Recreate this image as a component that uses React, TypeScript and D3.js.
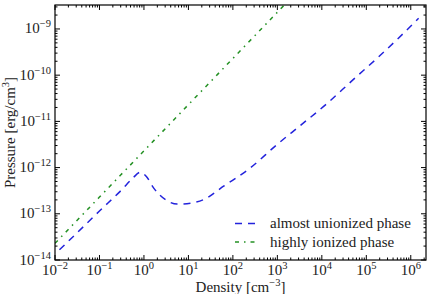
import React, { useEffect, useRef } from "react";
import * as d3 from "d3";

// almost unionized phase: density [cm^-3] vs pressure [erg/cm^3]
const neutralDensity = [
  0.0126, 0.0316, 0.1, 0.316, 0.56, 0.83, 1.12, 1.66, 3.1, 5.6, 11.2, 22.4, 63,
  229, 1000, 3162, 13200, 50000, 190000, 500000, 1500000,
];
const neutralPressure = [
  1.66e-14, 3.9e-14, 1.15e-13, 3.3e-13, 5.9e-13, 7.9e-13, 6.5e-13, 3.6e-13,
  2.0e-13, 1.62e-13, 1.7e-13, 2.04e-13, 4.0e-13, 9.3e-13, 3.2e-12, 7.9e-12,
  2.45e-11, 7.9e-11, 2.5e-10, 6.0e-10, 1.7e-9,
];

// highly ionized phase
const ionizedDensity = [0.01, 0.1, 1, 10, 100, 1000, 10000];
const ionizedPressure = [2.3e-14, 2.3e-13, 2.3e-12, 2.3e-11, 2.3e-10, 2.3e-9, 2.3e-8];

const xTickExponents = [-2, -1, 0, 1, 2, 3, 4, 5, 6];
const yTickExponents = [-14, -13, -12, -11, -10, -9];

const legendLabels = ["almost unionized phase", "highly ionized phase"];

const W = 434;
const H = 294;
const margin = { left: 55, right: 8, top: 5, bottom: 34 };
const FONT = "'Liberation Serif', 'Times New Roman', serif";

const BLUE = "#2323dc";
const GREEN = "#249124";

const sup = (e: number) => (e < 0 ? `\u2212${-e}` : `${e}`);

const minorValues = (domain: number[]) => {
  const out: number[] = [];
  const lo = Math.floor(Math.log10(domain[0]));
  const hi = Math.ceil(Math.log10(domain[1]));
  for (let d = lo; d <= hi; d++) {
    for (let m = 2; m <= 9; m++) {
      const v = m * Math.pow(10, d);
      if (v >= domain[0] && v <= domain[1]) out.push(v);
    }
  }
  return out;
};

const App = () => {
  const svgRef = useRef<SVGSVGElement>(null);

  useEffect(() => {
    const svg = d3.select(svgRef.current);
    svg.selectAll("*").remove();

    const x0 = margin.left;
    const x1 = W - margin.right;
    const y0 = margin.top;
    const y1 = H - margin.bottom;

    const xDomain = [1e-2, 2.2e6];
    const yDomain = [1e-14, 3.3e-9];
    const x = d3.scaleLog().domain(xDomain).range([x0, x1]);
    const y = d3.scaleLog().domain(yDomain).range([y1, y0]);

    svg
      .append("clipPath")
      .attr("id", "plot-area")
      .append("rect")
      .attr("x", x0)
      .attr("y", y0)
      .attr("width", x1 - x0)
      .attr("height", y1 - y0);

    const line = d3
      .line<[number, number]>()
      .x((d) => x(d[0]))
      .y((d) => y(d[1]))
      .curve(d3.curveMonotoneX);

    const curves = svg.append("g").attr("clip-path", "url(#plot-area)");

    curves
      .append("path")
      .attr("d", line(ionizedDensity.map((n, i) => [n, ionizedPressure[i]]) as [number, number][]))
      .attr("fill", "none")
      .attr("stroke", GREEN)
      .attr("stroke-width", 1.5)
      .attr("stroke-dasharray", "4,5,1.5,5");

    curves
      .append("path")
      .attr("d", line(neutralDensity.map((n, i) => [n, neutralPressure[i]]) as [number, number][]))
      .attr("fill", "none")
      .attr("stroke", BLUE)
      .attr("stroke-width", 1.5)
      .attr("stroke-dasharray", "7,6");

    // ticks point inward on all four sides
    const ticks = svg.append("g").attr("stroke", "#000").attr("stroke-width", 1);
    const major = 5;
    const minor = 2.5;

    xTickExponents.forEach((e) => {
      const px = x(Math.pow(10, e));
      ticks.append("line").attr("x1", px).attr("x2", px).attr("y1", y1).attr("y2", y1 - major);
      ticks.append("line").attr("x1", px).attr("x2", px).attr("y1", y0).attr("y2", y0 + major);
    });
    minorValues(xDomain).forEach((v) => {
      const px = x(v);
      ticks.append("line").attr("x1", px).attr("x2", px).attr("y1", y1).attr("y2", y1 - minor);
      ticks.append("line").attr("x1", px).attr("x2", px).attr("y1", y0).attr("y2", y0 + minor);
    });
    yTickExponents.forEach((e) => {
      const py = y(Math.pow(10, e));
      ticks.append("line").attr("x1", x0).attr("x2", x0 + major).attr("y1", py).attr("y2", py);
      ticks.append("line").attr("x1", x1).attr("x2", x1 - major).attr("y1", py).attr("y2", py);
    });
    minorValues(yDomain).forEach((v) => {
      const py = y(v);
      ticks.append("line").attr("x1", x0).attr("x2", x0 + minor).attr("y1", py).attr("y2", py);
      ticks.append("line").attr("x1", x1).attr("x2", x1 - minor).attr("y1", py).attr("y2", py);
    });

    svg
      .append("rect")
      .attr("x", x0)
      .attr("y", y0)
      .attr("width", x1 - x0)
      .attr("height", y1 - y0)
      .attr("fill", "none")
      .attr("stroke", "#000")
      .attr("stroke-width", 1.2);

    const labels = svg
      .append("g")
      .attr("font-family", FONT)
      .attr("font-size", 15)
      .attr("fill", "#222");

    xTickExponents.forEach((e) => {
      const t = labels
        .append("text")
        .attr("x", x(Math.pow(10, e)))
        .attr("y", y1 + 15)
        .attr("text-anchor", "middle");
      t.append("tspan").text("10");
      t.append("tspan").attr("dy", -6).attr("font-size", 10.5).text(sup(e));
    });

    yTickExponents.forEach((e) => {
      const t = labels
        .append("text")
        .attr("x", x0 - 4)
        .attr("y", y(Math.pow(10, e)) + 4.5)
        .attr("text-anchor", "end");
      t.append("tspan").text("10");
      t.append("tspan").attr("dy", -6).attr("font-size", 10.5).text(sup(e));
    });

    const xl = labels
      .append("text")
      .attr("x", (x0 + x1) / 2)
      .attr("y", H - 2)
      .attr("text-anchor", "middle");
    xl.append("tspan").text("Density [cm");
    xl.append("tspan").attr("dy", -6).attr("font-size", 10.5).text("\u22123");
    xl.append("tspan").attr("dy", 6).text("]");

    const yl = labels
      .append("text")
      .attr("transform", `translate(15,${(y0 + y1) / 2}) rotate(-90)`)
      .attr("text-anchor", "middle");
    yl.append("tspan").text("Pressure [erg/cm");
    yl.append("tspan").attr("dy", -6).attr("font-size", 10.5).text("3");
    yl.append("tspan").attr("dy", 6).text("]");

    // legend, no frame
    const legend = svg.append("g");
    const entries = [
      { label: legendLabels[0], color: BLUE, dash: "7,6", y: 223.5 },
      { label: legendLabels[1], color: GREEN, dash: "4,5,1.5,5", y: 242 },
    ];
    entries.forEach((d) => {
      legend
        .append("line")
        .attr("x1", 235)
        .attr("x2", 256)
        .attr("y1", d.y)
        .attr("y2", d.y)
        .attr("stroke", d.color)
        .attr("stroke-width", 1.5)
        .attr("stroke-dasharray", d.dash);
      legend
        .append("text")
        .attr("x", 270)
        .attr("y", d.y + 4.5)
        .attr("font-family", FONT)
        .attr("font-size", 15)
        .attr("fill", "#222")
        .text(d.label);
    });
  }, []);

  return (
    <svg
      ref={svgRef}
      width={W}
      height={H}
      style={{ position: "absolute", left: 0, top: 0, background: "#fff" }}
    />
  );
};

export default App;
